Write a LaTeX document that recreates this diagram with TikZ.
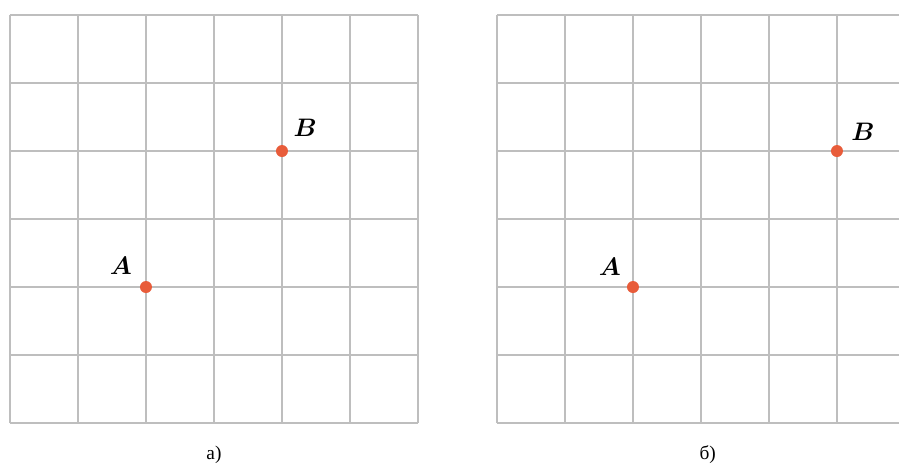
\documentclass[tikz,border=0pt]{standalone}
\usepackage{amsmath}
\usepackage{fontspec}
\newfontfamily\cyrfont{Liberation Serif}
\usetikzlibrary{positioning}
\definecolor{gridline}{RGB}{190, 190, 190}
\definecolor{point}{RGB}{232, 92, 58}

\begin{document}
\begin{tikzpicture}[
    x=1.36cm, y=1.36cm,
    cell/.style={draw=gridline, line width=0.9pt, step=1},
    dot/.style={
        circle, fill=point, inner sep=0pt,
        minimum size=0.24cm,
    },
    lbl/.style={font=\fontsize{14}{16}\selectfont, inner sep=0pt},
    caption/.style={font=\cyrfont\fontsize{11}{13}\selectfont, inner sep=0pt},
]

% --- Frame: same proportions as the page, right grid cut off ---
\clip (-0.147,-0.632) rectangle (13.074,6.221);

% --- Grid a ---
\draw[cell] (0,0) grid (6,6);
\node[dot] (aA) at (2,2) {};
\node[dot] (aB) at (4,4) {};
\node[lbl] (aAlbl) at ([shift={(-0.37,0.31)}]aA) {$\boldsymbol{A}$};
\node[lbl] (aBlbl) at ([shift={(0.34,0.34)}]aB) {$\boldsymbol{B}$};
\node[caption] (acap) at (3.0,-0.47) {а)};

% --- Grid b ---
\begin{scope}[xshift=7.162*1.36cm]
    \draw[cell] (0,0) grid (6,6);
    \node[dot] (bA) at (2,2) {};
    \node[dot] (bB) at (5,4) {};
    \node[lbl] (bAlbl) at ([shift={(-0.34,0.29)}]bA) {$\boldsymbol{A}$};
    \node[lbl] (bBlbl) at ([shift={(0.38,0.28)}]bB) {$\boldsymbol{B}$};
    \node[caption] (bcap) at (3.1,-0.47) {б)};
\end{scope}

\end{tikzpicture}
\end{document}
